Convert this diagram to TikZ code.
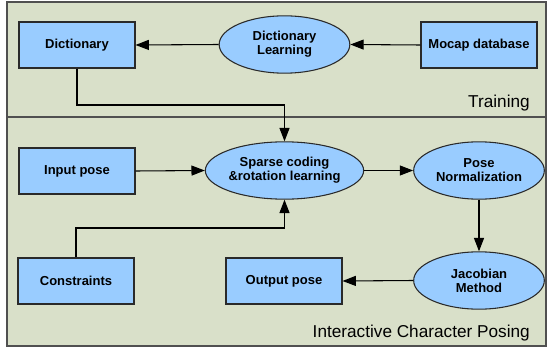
\documentclass[tikz,border=0pt]{standalone}
\usepackage{fontspec}
\setmainfont{Liberation Sans}
\usetikzlibrary{shapes.geometric,arrows.meta}
\definecolor{panelbg}{HTML}{D9E0C9}
\definecolor{boxfill}{HTML}{99CCFF}
\definecolor{framec}{HTML}{505050}
\definecolor{edgec}{HTML}{2A2A2A}
\begin{document}
\begin{tikzpicture}[x=0.75pt,y=-0.75pt,
  panel/.style={draw=framec,line width=1.1pt,fill=panelbg},
  boxnode/.style={draw=edgec,line width=0.8pt,fill=boxfill,rectangle,minimum width=87pt,minimum height=34.5pt,inner sep=0pt,font=\fontsize{9.75}{10.5}\selectfont\bfseries,align=center},
  ellnode/.style={draw=edgec,line width=0.8pt,fill=boxfill,ellipse,minimum width=98pt,minimum height=43pt,inner sep=0pt,font=\fontsize{9.75}{10.5}\selectfont\bfseries,align=center},
  conn/.style={draw=black,line width=0.8pt,-{Triangle[length=10pt,width=7.5pt]}},
  lbl/.style={font=\fontsize{12.9}{15}\selectfont,anchor=east,inner sep=0pt}]
\useasboundingbox (0,0) rectangle (549,349);
\draw[panel] (7,2) rectangle (546,117);
\draw[panel] (7,117) rectangle (546,346);
\node[lbl] (training) at (530,103) {Training};
\node[lbl] (icp) at (530,333) {Interactive Character Posing};
% nodes
\node[boxnode] (dict) at (77,45) {Dictionary};
\node[ellnode] (dl) at (284.5,44.5) {Dictionary\\Learning};
\node[boxnode] (mocap) at (479,45) {Mocap database};
\node[boxnode] (input) at (77,171) {Input pose};
\node[ellnode] (sparse) at (284.5,170.5) {Sparse coding\\\&rotation learning};
\node[ellnode] (norm) at (479,170.5) {Pose\\Normalization};
\node[boxnode] (cons) at (76,281) {Constraints};
\node[boxnode] (out) at (284,281) {Output pose};
\node[ellnode] (jac) at (479,280.5) {Jacobian\\Method};
\coordinate (d1) at (77,105);
\coordinate (d2) at (284.5,105);
\coordinate (c1) at (76,228);
\coordinate (c2) at (284.5,228);
% connectors
\draw[conn] (mocap.west) -- (dl.east);
\draw[conn] (dl.west) -- (dict.east);
\draw[conn] (dict.south) -- (d1) -- (d2) -- (sparse.north);
\draw[conn] (input.east) -- (sparse.west);
\draw[conn] (cons.north) -- (c1) -- (c2) -- (sparse.south);
\draw[conn] (sparse.east) -- (norm.west);
\draw[conn] (norm.south) -- (jac.north);
\draw[conn] (jac.west) -- (out.east);
\end{tikzpicture}
\end{document}
